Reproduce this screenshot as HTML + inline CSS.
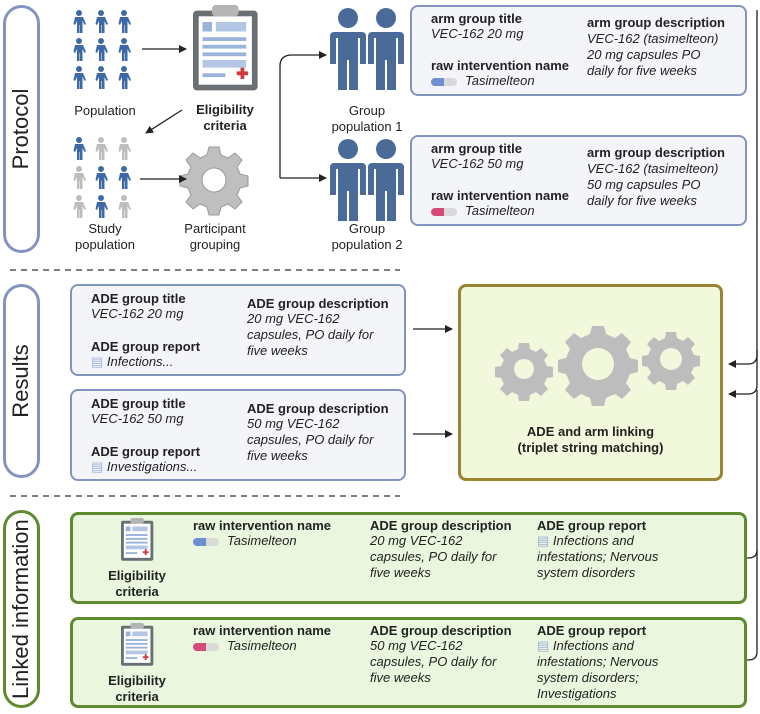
<!DOCTYPE html>
<html><head><meta charset="utf-8"><style>
body{margin:0;width:760px;height:714px;background:#fff;position:relative;overflow:hidden;font-family:"Liberation Sans",Arial,sans-serif;color:#222}
.a{position:absolute;white-space:nowrap}
.b{font-weight:bold;font-size:13px;line-height:15px}
.i{font-style:italic;font-size:13px;line-height:16px}
.box{position:absolute;border-radius:8px;box-sizing:border-box}
.pb{border:2.5px solid #8294bf;background:#f3f5f9}
.gb{border:3px solid #5f8b2f;background:#eaf6de}
.pill{position:absolute;left:3px;width:37px;border-radius:19px;box-sizing:border-box;background:#fff}
.vl{position:absolute;transform:rotate(-90deg);transform-origin:center;font-size:22px;white-space:nowrap;color:#222}
.cap{display:inline-block;width:26px;height:8px;border-radius:4px;background:linear-gradient(90deg,#6b8fd0 50%,#d9d9d9 50%);vertical-align:middle;margin-right:8px}
.cap.r{background:linear-gradient(90deg,#d64a7a 50%,#d9d9d9 50%)}
.c{font-size:13px;text-align:center;line-height:16px}
</style></head><body>
<svg width="760" height="714" style="position:absolute;left:0;top:0">
<defs>
<g id="p"><circle cx="0" cy="3" r="3"/><path d="M-4,7 h8 l3,7 -1.5,1 -2,-4 v12 h-2.5 v-8 h-0.5 v8 h-2.5 v-12 l-2,4 -1.5,-1z"/></g>
<g id="P"><circle cx="0" cy="10" r="10"/><path d="M-14,24 h28 a4,4 0 0 1 4,4 v28 h-6 v-26 h-2 v52 h-9 v-30 h-2 v30 h-9 v-52 h-2 v26 h-6 v-28 a4,4 0 0 1 4,-4z"/></g>
<marker id="ar" markerWidth="8" markerHeight="8" refX="7" refY="4" orient="auto" markerUnits="userSpaceOnUse"><path d="M0,0 L8,4 L0,8z" fill="#222"/></marker>
<g id="gear"><path d="M-4,-1 h8 v0z"/></g>
<g id="clip"><rect x="0" y="4" width="34" height="42" rx="2" fill="#6a6f73"/><rect x="3" y="7" width="28" height="36" fill="#fff"/><rect x="10" y="1" width="14" height="6" rx="2" fill="#b5b5b5"/><rect x="5" y="10" width="5" height="5" fill="#9bb2da"/><rect x="12" y="10" width="16" height="5" fill="#b3c6e6"/><rect x="5" y="18" width="23" height="2" fill="#9bb2da"/><rect x="5" y="22" width="23" height="2" fill="#9bb2da"/><rect x="5" y="26" width="23" height="2" fill="#9bb2da"/><rect x="5" y="30" width="23" height="4" fill="#b3c6e6"/><rect x="5" y="37" width="12" height="2" fill="#9bb2da"/><path d="M23,36 h2 v-2 h2 v2 h2 v2 h-2 v2 h-2 v-2 h-2z" fill="#d0393e"/></g>
</defs>
<!-- small people -->
<g fill="#3d6aa6">
<use href="#p" x="79" y="10"/><use href="#p" x="101" y="10"/><use href="#p" x="124" y="10"/>
<use href="#p" x="79" y="38"/><use href="#p" x="101" y="38"/><use href="#p" x="124" y="38"/>
<use href="#p" x="79" y="66"/><use href="#p" x="101" y="66"/><use href="#p" x="124" y="66"/>
<use href="#p" x="79" y="137"/><use href="#p" x="101" y="166"/><use href="#p" x="124" y="166"/><use href="#p" x="101" y="195"/>
</g>
<g fill="#bdbdbd"><use href="#p" x="101" y="137"/><use href="#p" x="124" y="137"/><use href="#p" x="79" y="166"/><use href="#p" x="79" y="195"/><use href="#p" x="124" y="195"/></g>
<!-- big people -->
<g fill="#4a6a98">
<use href="#P" x="348" y="8"/><use href="#P" x="386" y="8"/>
<use href="#P" x="348" y="139"/><use href="#P" x="386" y="139"/>
</g>
<!-- clipboard big -->
<g transform="translate(193,3) scale(1.9)"><use href="#clip"/></g>
<!-- gear -->
<g transform="translate(214,180)" fill="#bfbfbf" stroke="#9a9a9a" stroke-width="1">
<path d="M-5,-33 h10 l2,8 7,3 7,-5 7,7 -5,7 3,7 8,2 v10 l-8,2 -3,7 5,7 -7,7 -7,-5 -7,3 -2,8 h-10 l-2,-8 -7,-3 -7,5 -7,-7 5,-7 -3,-7 -8,-2 v-10 l8,-2 3,-7 -5,-7 7,-7 7,5 7,-3z"/>
<circle r="12" fill="#fff"/>
</g>
<!-- arrows protocol -->
<g stroke="#222" stroke-width="1.3" fill="none">
<line x1="142" y1="49" x2="186" y2="49" marker-end="url(#ar)"/>
<line x1="182" y1="110" x2="146" y2="133" marker-end="url(#ar)"/>
<line x1="140" y1="179" x2="186" y2="179" marker-end="url(#ar)"/>
<path d="M280,178 V66 Q280,55 292,55 H326" marker-end="url(#ar)"/>
<line x1="280" y1="178" x2="326" y2="178" marker-end="url(#ar)"/>
<line x1="413" y1="329" x2="452" y2="329" marker-end="url(#ar)"/>
<line x1="413" y1="434" x2="452" y2="434" marker-end="url(#ar)"/>
<path d="M757,10 V355 Q757,364 748,364 H729" marker-end="url(#ar)"/>
<path d="M757,350 V385 Q757,394 748,394 H729" marker-end="url(#ar)"/>
<path d="M757,390 V550 Q757,558 748,558 H740" marker-end="url(#ar)"/>
<path d="M757,550 V652 Q757,660 748,660 H740" marker-end="url(#ar)"/>
</g>
<g stroke="#333" stroke-width="1.2" stroke-dasharray="6,5"><line x1="10" y1="270" x2="400" y2="270"/><line x1="10" y1="496" x2="400" y2="496"/></g>
</svg>

<div class="pill" style="top:5px;height:248px;border:3px solid #8294bf"></div>
<div class="vl" style="left:-34px;top:116px;width:110px;text-align:center">Protocol</div>
<div class="pill" style="top:284px;height:194px;border:3px solid #8294bf"></div>
<div class="vl" style="left:-34px;top:368px;width:110px;text-align:center">Results</div>
<div class="pill" style="top:510px;height:198px;border:3px solid #5f8b2f"></div>
<div class="vl" style="left:-68px;top:597px;width:178px;text-align:center">Linked information</div>

<div class="a c" style="left:60px;top:103px;width:90px">Population</div>
<div class="a c b" style="left:180px;top:102px;width:90px;font-size:13px">Eligibility<br>criteria</div>
<div class="a c" style="left:327px;top:103px;width:80px">Group<br>population 1</div>
<div class="a c" style="left:60px;top:221px;width:90px">Study<br>population</div>
<div class="a c" style="left:170px;top:221px;width:90px">Participant<br>grouping</div>
<div class="a c" style="left:327px;top:221px;width:80px">Group<br>population 2</div>

<div class="box pb" style="left:410px;top:5px;width:337px;height:91px"></div>
<div class="a b" style="left:431px;top:11px">arm group title</div>
<div class="a i" style="left:431px;top:26px">VEC-162 20 mg</div>
<div class="a b" style="left:431px;top:58px">raw intervention name</div>
<div class="a i" style="left:431px;top:73px"><span class="cap"></span>Tasimelteon</div>
<div class="a b" style="left:587px;top:15px">arm group description</div>
<div class="a i" style="left:587px;top:31px">VEC-162 (tasimelteon)<br>20 mg capsules PO<br>daily for five weeks</div>

<div class="box pb" style="left:410px;top:135px;width:337px;height:91px"></div>
<div class="a b" style="left:431px;top:141px">arm group title</div>
<div class="a i" style="left:431px;top:156px">VEC-162 50 mg</div>
<div class="a b" style="left:431px;top:188px">raw intervention name</div>
<div class="a i" style="left:431px;top:203px"><span class="cap r"></span>Tasimelteon</div>
<div class="a b" style="left:587px;top:145px">arm group description</div>
<div class="a i" style="left:587px;top:161px">VEC-162 (tasimelteon)<br>50 mg capsules PO<br>daily for five weeks</div>

<div class="box pb" style="left:70px;top:284px;width:336px;height:92px"></div>
<div class="a b" style="left:91px;top:291px">ADE group title</div>
<div class="a i" style="left:91px;top:306px">VEC-162 20 mg</div>
<div class="a b" style="left:91px;top:339px">ADE group report</div>
<div class="a i" style="left:91px;top:354px"><span style="color:#9bb2da;font-style:normal">▤</span> Infections...</div>
<div class="a b" style="left:247px;top:296px">ADE group description</div>
<div class="a i" style="left:247px;top:311px">20 mg VEC-162<br>capsules, PO daily for<br>five weeks</div>

<div class="box pb" style="left:70px;top:389px;width:336px;height:92px"></div>
<div class="a b" style="left:91px;top:396px">ADE group title</div>
<div class="a i" style="left:91px;top:411px">VEC-162 50 mg</div>
<div class="a b" style="left:91px;top:444px">ADE group report</div>
<div class="a i" style="left:91px;top:459px"><span style="color:#9bb2da;font-style:normal">▤</span> Investigations...</div>
<div class="a b" style="left:247px;top:401px">ADE group description</div>
<div class="a i" style="left:247px;top:416px">50 mg VEC-162<br>capsules, PO daily for<br>five weeks</div>

<div class="box" style="left:458px;top:284px;width:265px;height:197px;border:3px solid #9a8432;background:#f1f8dc"></div>
<svg width="265" height="197" style="position:absolute;left:458px;top:284px">
<g fill="#bdbdbd">
<g transform="translate(66,85)"><path d="M-5,-26 h10 l1,6 6,3 5,-4 7,7 -4,5 3,6 6,1 v10 l-6,1 -3,6 4,5 -7,7 -5,-4 -6,3 -1,6 h-10 l-1,-6 -6,-3 -5,4 -7,-7 4,-5 -3,-6 -6,-1 v-10 l6,-1 3,-6 -4,-5 7,-7 5,4 6,-3z"/><circle r="10" fill="#f1f8dc"/></g>
<g transform="translate(140,80)"><path d="M-6,-38 h12 l2,8 9,4 7,-5 9,9 -5,7 4,9 8,2 v12 l-8,2 -4,9 5,7 -9,9 -7,-5 -9,4 -2,8 h-12 l-2,-8 -9,-4 -7,5 -9,-9 5,-7 -4,-9 -8,-2 v-12 l8,-2 4,-9 -5,-7 9,-9 7,5 9,-4z"/><circle r="16" fill="#f1f8dc"/></g>
<g transform="translate(213,75)"><path d="M-5,-27 h10 l1,6 6,3 5,-4 7,7 -4,5 3,6 6,1 v10 l-6,1 -3,6 4,5 -7,7 -5,-4 -6,3 -1,6 h-10 l-1,-6 -6,-3 -5,4 -7,-7 4,-5 -3,-6 -6,-1 v-10 l6,-1 3,-6 -4,-5 7,-7 5,4 6,-3z"/><circle r="11" fill="#f1f8dc"/></g>
</g></svg>
<div class="a b c" style="left:458px;top:137px;width:265px;top:424px;font-size:13px">ADE and arm linking<br>(triplet string matching)</div>

<div class="box gb" style="left:70px;top:512px;width:677px;height:92px"></div>
<svg width="40" height="50" style="position:absolute;left:121px;top:517px"><g transform="scale(0.95)"><use href="#clip"/></g></svg>
<div class="a b c" style="left:92px;top:568px;width:90px">Eligibility<br>criteria</div>
<div class="a b" style="left:193px;top:518px">raw intervention name</div>
<div class="a i" style="left:193px;top:533px"><span class="cap"></span>Tasimelteon</div>
<div class="a b" style="left:370px;top:518px">ADE group description</div>
<div class="a i" style="left:370px;top:533px">20 mg VEC-162<br>capsules, PO daily for<br>five weeks</div>
<div class="a b" style="left:537px;top:518px">ADE group report</div>
<div class="a i" style="left:537px;top:533px"><span style="color:#9bb2da;font-style:normal">▤</span> Infections and<br>infestations; Nervous<br>system disorders</div>

<div class="box gb" style="left:70px;top:617px;width:677px;height:91px"></div>
<svg width="40" height="50" style="position:absolute;left:121px;top:622px"><g transform="scale(0.95)"><use href="#clip"/></g></svg>
<div class="a b c" style="left:92px;top:673px;width:90px">Eligibility<br>criteria</div>
<div class="a b" style="left:193px;top:623px">raw intervention name</div>
<div class="a i" style="left:193px;top:638px"><span class="cap r"></span>Tasimelteon</div>
<div class="a b" style="left:370px;top:623px">ADE group description</div>
<div class="a i" style="left:370px;top:638px">50 mg VEC-162<br>capsules, PO daily for<br>five weeks</div>
<div class="a b" style="left:537px;top:623px">ADE group report</div>
<div class="a i" style="left:537px;top:638px"><span style="color:#9bb2da;font-style:normal">▤</span> Infections and<br>infestations; Nervous<br>system disorders;<br>Investigations</div>
</body></html>
